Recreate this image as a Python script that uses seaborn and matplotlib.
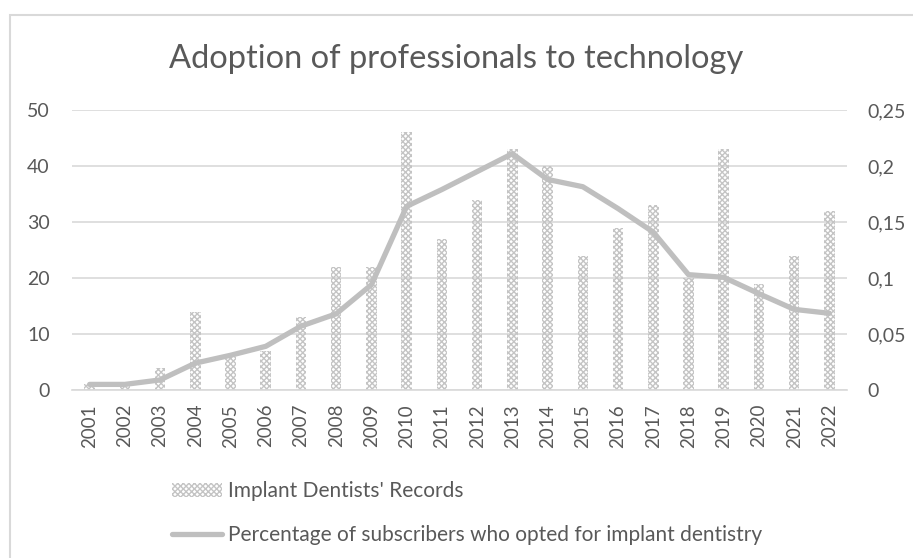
import numpy as np
import pandas as pd
import matplotlib
matplotlib.use("Agg")
import matplotlib.pyplot as plt
import seaborn as sns
from matplotlib.patches import Patch, Rectangle
from matplotlib.lines import Line2D
from matplotlib.ticker import FuncFormatter, MultipleLocator

years = [str(y) for y in range(2001, 2023)]
records = [1, 1, 4, 14, 6, 7, 13, 22, 22, 46, 27, 34, 43, 40, 24, 29, 33, 20, 43, 19, 24, 32]
percentage = [0.005, 0.005, 0.009, 0.024, 0.031, 0.039, 0.057, 0.068, 0.094, 0.164, 0.179,
              0.195, 0.211, 0.188, 0.1815, 0.162, 0.141, 0.103, 0.1006, 0.086, 0.072, 0.0685]
title = "Adoption of professionals to technology"
bar_label = "Implant Dentists' Records"
line_label = "Percentage of subscribers who opted for implant dentistry"

sns.set_theme(style="white")
plt.rcParams['font.family'] = ['Lato', 'DejaVu Sans']
plt.rcParams['hatch.linewidth'] = 1.0

TXT = '#595959'
GRID = '#d9d9d9'
BAR = '#c4c4c4'
LINE = '#bfbfbf'

df = pd.DataFrame({'year': years, 'records': records, 'pct': percentage})

fig = plt.figure(figsize=(9.13, 5.58), dpi=100)
ax = fig.add_axes([72/913, 1-390/558, (847-72)/913, 280/558])

sns.barplot(data=df, x='year', y='records', ax=ax, width=0.3, color='white', zorder=2)
for p in ax.patches:
    p.set_facecolor('none')
    p.set_hatch('xxxxxx')
    p.set_edgecolor(BAR)
    p.set_linewidth(0)

ax.set_ylim(0, 50)
ax.set_xlim(-0.5, len(years)-0.5)
ax.yaxis.set_major_locator(MultipleLocator(10))
ax.grid(axis='y', color=GRID, lw=1.2, zorder=0)
ax.set_axisbelow(True)
for s in ['top', 'left', 'right']:
    ax.spines[s].set_visible(False)
ax.spines['bottom'].set_color(GRID)
ax.spines['bottom'].set_linewidth(1.2)
ax.set_xlabel('')
ax.set_ylabel('')
ax.tick_params(axis='y', length=0, pad=16, labelsize=14, labelcolor=TXT)
ax.tick_params(axis='x', length=0, pad=10, labelsize=13.5, labelcolor=TXT, rotation=90)

ax2 = ax.twinx()
sns.lineplot(x=np.arange(len(years)), y=df['pct'], ax=ax2, color=LINE, lw=3.8,
             solid_capstyle='round', zorder=3)
ax2.set_ylim(0, 0.25)
ax2.yaxis.set_major_locator(MultipleLocator(0.05))
ax2.yaxis.set_major_formatter(FuncFormatter(lambda v, p: ('%g' % round(v, 4)).replace('.', ',')))
for s in ['top', 'left', 'right', 'bottom']:
    ax2.spines[s].set_visible(False)
ax2.set_ylabel('')
ax2.tick_params(axis='y', length=0, pad=15, labelsize=14, labelcolor=TXT)
ax2.set_xlim(-0.5, len(years)-0.5)

fig.text(0.5, 1-59/558, title, ha='center', va='center', fontsize=23.5, color=TXT)

handles = [Patch(facecolor='none', hatch='xxxxxx', edgecolor=BAR, lw=0),
           Line2D([0], [0], color=LINE, lw=3.8)]
fig.legend(handles, [bar_label, line_label], loc='upper left',
           bbox_to_anchor=(164/913, 1-473/558), frameon=False, fontsize=15,
           labelcolor=TXT, handlelength=2.4, handleheight=0.7, handletextpad=0.25,
           labelspacing=1.15, borderaxespad=0)

fig.patches.append(Rectangle((10/913, -0.1), 1.1, (558-15)/558 + 0.1, transform=fig.transFigure,
                             fill=False, edgecolor=GRID, lw=1.5))

fig.savefig('out.png', dpi=100)
